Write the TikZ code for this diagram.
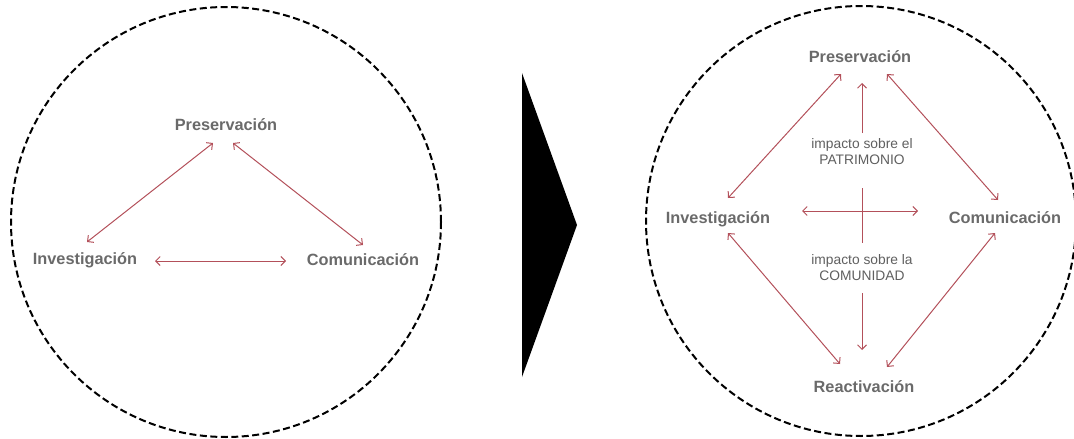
\documentclass[tikz,border=0pt]{standalone}
\usepackage{fontspec}
\setmainfont{Liberation Sans}
\usepackage{xcolor}
\usepackage{tikz}
\usetikzlibrary{arrows.meta}
\definecolor{rojo}{HTML}{B3505A}
\definecolor{gris}{HTML}{6A6A6A}

\begin{document}
\begin{tikzpicture}[x=1pt, y=-1pt,
    etiqueta/.style={font=\fontsize{16.3}{18}\selectfont\bfseries, color=gris, inner sep=0pt, text height=11pt, text depth=0pt},
    impacto/.style={font=\fontsize{13.8}{16}\selectfont, color=gris!90!black, align=center, inner sep=0pt},
    flecha/.style={rojo, line width=1pt, {Straight Barb[length=4.5pt,width=9pt]}-{Straight Barb[length=4.5pt,width=9pt]}},
    punta/.style={rojo, line width=1pt, -{Straight Barb[length=4.5pt,width=9pt]}},
    circulo/.style={black, line width=2pt, dash pattern=on 7pt off 3.5pt}]
    \useasboundingbox (0,0) rectangle (1074,439);
    % antes
    \draw[circulo] (226,222) circle[radius=215];
    \node[etiqueta] (pres) at (226,125) {Preservación};
    \node[etiqueta] (inv) at (85,259) {Investigación};
    \node[etiqueta] (com) at (363,260) {Comunicación};
    \draw[flecha] ([shift={(-13,18)}]pres.center) -- ([shift={(2,-17)}]inv.center);
    \draw[flecha] ([shift={(7,18)}]pres.center) -- ([shift={(0,-15)}]com.center);
    \draw[flecha] ([shift={(70,2)}]inv.center) -- ([shift={(-77,1)}]com.center);
    % flecha del medio
    \fill[black] (522,73) -- (577,225) -- (522,377) -- cycle;
    % despues
    \draw[circulo] (861,221) circle[radius=215];
    \node[etiqueta] (pres2) at (860,57) {Preservación};
    \node[etiqueta] (inv2) at (718,218) {Investigación};
    \node[etiqueta] (com2) at (1005,218) {Comunicación};
    \node[etiqueta] (reac) at (864,387) {Reactivación};
    \node[impacto] (patr) at (862,152) {impacto sobre el\\PATRIMONIO};
    \node[impacto] (comu) at (862,268) {impacto sobre la\\COMUNIDAD};
    \draw[flecha] ([shift={(-19,17)}]pres2.center) -- ([shift={(10,-20)}]inv2.center);
    \draw[flecha] ([shift={(27,17)}]pres2.center) -- ([shift={(-7,-18)}]com2.center);
    \draw[flecha] ([shift={(10,15)}]inv2.center) -- ([shift={(-24,-23)}]reac.center);
    \draw[flecha] ([shift={(-10,15)}]com2.center) -- ([shift={(23,-20)}]reac.center);
    \draw[punta] ([shift={(0,-19)}]patr.center) -- ([shift={(2,26)}]pres2.center);
    \draw[punta] ([shift={(0,25)}]comu.center) -- ([shift={(-2,-37)}]reac.center);
    \draw[rojo, line width=1pt] ([shift={(0,36)}]patr.center) -- ([shift={(0,-25)}]comu.center);
    \draw[flecha] ([shift={(84,-7)}]inv2.center) -- ([shift={(-87,-7)}]com2.center);
\end{tikzpicture}
\end{document}
